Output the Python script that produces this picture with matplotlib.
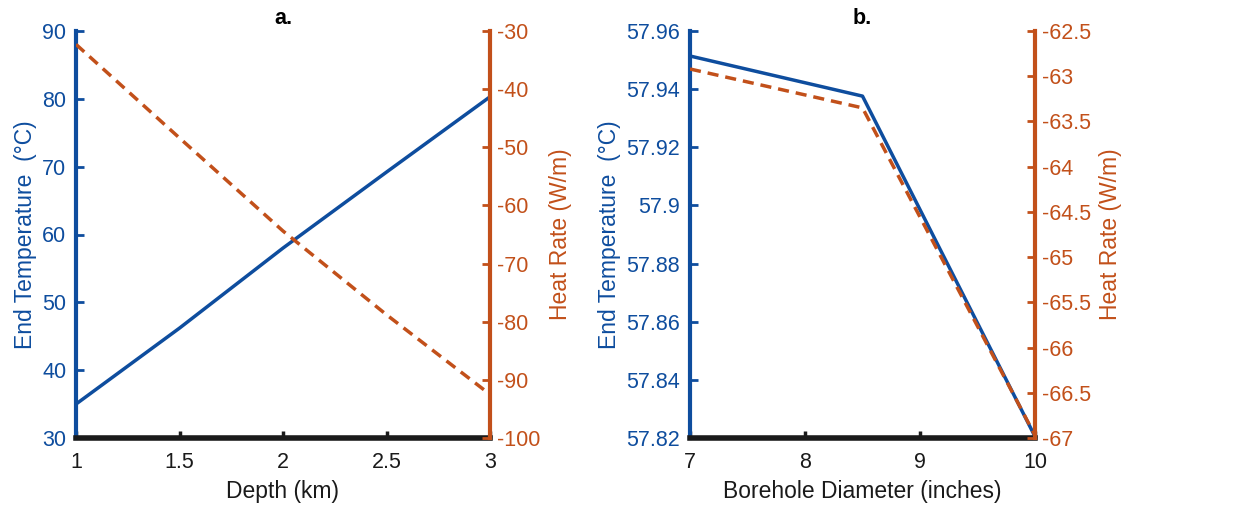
import matplotlib
matplotlib.use("Agg")
import matplotlib.pyplot as plt
from matplotlib.ticker import FuncFormatter

plt.rcParams['font.family'] = ['Liberation Sans', 'DejaVu Sans']
plt.rcParams['axes.unicode_minus'] = False

# Panel a data
depth_km = [1.0, 1.5, 2.0, 2.5, 3.0]
end_temp_a = [35.0, 46.2, 58.0, 69.2, 80.3]
heat_rate_a = [-32.3, -48.4, -64.4, -78.8, -92.5]

# Panel b data
diameter_in = [7.0, 8.5, 10.0]
end_temp_b = [57.9514, 57.9376, 57.8205]
heat_rate_b = [-62.92, -63.35, -66.97]

a_xticks = [1, 1.5, 2, 2.5, 3]
a_left_ticks = [30, 40, 50, 60, 70, 80, 90]
a_right_ticks = [-100, -90, -80, -70, -60, -50, -40, -30]
b_xticks = [7, 8, 9, 10]
b_left_ticks = [57.82, 57.84, 57.86, 57.88, 57.90, 57.92, 57.94, 57.96]
b_right_ticks = [-67, -66.5, -66, -65.5, -65, -64.5, -64, -63.5, -63, -62.5]

BLUE = '#0E4D9E'
ORANGE = '#C2501A'
FS = 15.5
LFS = 16.5

fmt = FuncFormatter(lambda v, p: ('%.2f' % v).rstrip('0').rstrip('.'))

fig = plt.figure(figsize=(12.33, 5.07), dpi=100)

def panel(rect, x, yl, yr, xt, ltk, rtk, xlab, title, xlim, llim, rlim):
    ax = fig.add_axes(rect)
    ax2 = ax.twinx()
    ax.plot(x, yl, color=BLUE, lw=2.5, solid_capstyle='butt')
    ax2.plot(x, yr, color=ORANGE, lw=2.5, dashes=[3.2, 2.0])
    ax.set_xlim(*xlim)
    ax.set_ylim(*llim)
    ax2.set_ylim(*rlim)
    ax.set_xticks(xt)
    ax.set_xticklabels(['%g' % v for v in xt])
    ax.set_yticks(ltk)
    ax2.set_yticks(rtk)
    ax.yaxis.set_major_formatter(fmt)
    ax2.yaxis.set_major_formatter(FuncFormatter(lambda v, p: '%g' % v))
    for a in (ax, ax2):
        a.spines['top'].set_visible(False)
        a.tick_params(direction='in', labelsize=FS, length=6, width=2, pad=4)
    ax.spines['left'].set_color(BLUE)
    ax.spines['left'].set_linewidth(3)
    ax.spines['bottom'].set_color('#1a1a1a')
    ax.spines['bottom'].set_linewidth(4)
    ax.spines['right'].set_visible(False)
    ax2.spines['left'].set_visible(False)
    ax2.spines['bottom'].set_visible(False)
    ax2.spines['right'].set_color(ORANGE)
    ax2.spines['right'].set_linewidth(3)
    ax.tick_params(axis='y', colors=BLUE, labelcolor=BLUE, pad=7)
    ax.tick_params(axis='x', colors='#1a1a1a', labelcolor='#1a1a1a', length=5, width=2.5, pad=10)
    ax2.tick_params(axis='y', colors=ORANGE, labelcolor=ORANGE, pad=5)
    ax.set_ylabel('End Temperature  (°C)', color=BLUE, fontsize=LFS, labelpad=4)
    ax2.set_ylabel('Heat Rate (W/m)', color=ORANGE, fontsize=LFS, labelpad=6)
    ax.set_xlabel(xlab, fontsize=LFS, color='#1a1a1a', labelpad=5)
    ax.set_title(title, fontsize=FS, fontweight='bold', pad=5)
    return ax, ax2

panel([76/1233, (507-438)/507, 414/1233, 407/507], depth_km, end_temp_a, heat_rate_a,
      a_xticks, a_left_ticks, a_right_ticks, 'Depth (km)', 'a.', (1, 3), (30, 90), (-100, -30))
panel([690/1233, (507-438)/507, 345/1233, 407/507], diameter_in, end_temp_b, heat_rate_b,
      b_xticks, b_left_ticks, b_right_ticks, 'Borehole Diameter (inches)', 'b.', (7, 10), (57.82, 57.96), (-67, -62.5))

fig.savefig('out.png', dpi=100)
